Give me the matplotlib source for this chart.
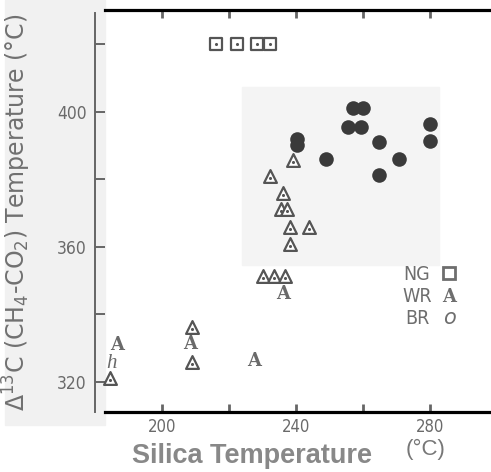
import numpy as np
import matplotlib.pyplot as plt
from matplotlib.patches import Rectangle
#--------------------------------------
# data
ng_x  = [216.1, 222.4, 228.4, 232.2]
ng_y  = [420.0, 420.0, 420.0, 420.0]

br_x  = [257.0, 260.0, 255.5, 259.4, 280.0, 280.0, 240.3, 240.3, 264.8, 249.0, 270.7, 264.8]
br_y  = [401.2, 401.2, 395.6, 395.6, 396.4, 391.4, 392.0, 390.3, 391.1, 386.1, 386.1, 381.3]

wr_x  = [239.1, 232.2, 236.1, 235.4, 237.3, 238.2, 243.9, 238.2, 230.1, 233.4, 236.7, 209.0, 209.0, 184.5]
wr_y  = [385.8, 381.0, 376.0, 371.3, 371.3, 365.9, 365.9, 360.9, 351.4, 351.4, 351.4, 336.3, 325.9, 321.2]

a_x   = [236.1, 208.4, 227.5, 186.6]
a_y   = [346.1, 331.3, 326.2, 331.0]
h_x   = [184.8]
h_y   = [325.6]

legend_names = ['NG', 'WR', 'BR']
xticks = [200, 220, 240, 260, 280]
xlabels = ['200', '', '240', '', '280']
yticks = [320, 340, 360, 380, 400, 420]
ylabels = ['320', '', '360', '', '400', '']
#--------------------------------------
fig = plt.figure(figsize=(4.91, 4.72), dpi=100)
fig.patch.set_facecolor('white')
W, H = 491, 472
fig.patches.append(Rectangle((5/W, 1-425/H), 100/W, 425/H, transform=fig.transFigure,
                             color='#f1f1f1', zorder=-5))

ax = fig.add_axes([95/W, 1-412/H, 1-95/W, 402/H])
ax.patch.set_visible(False)
ax.set_xlim(180, 298.2)
ax.set_ylim(311.1, 430.2)

# shaded box
ax.add_patch(Rectangle((223.9, 354.7), 282.7-223.9, 407.4-354.7, color='#f4f4f4', zorder=0))

gray = '#555555'
ax.scatter(ng_x, ng_y, marker='s', s=70, facecolor='white', edgecolor=gray, linewidth=1.6, zorder=3)
ax.scatter(ng_x, ng_y, marker='.', s=6, color=gray, zorder=4)
ax.scatter(br_x, br_y, marker='o', s=110, color='#3a3a3a', linewidth=0, zorder=3)
ax.scatter(wr_x, wr_y, marker='^', s=85, facecolor='white', edgecolor=gray, linewidth=1.6, zorder=3)
ax.scatter(wr_x, np.array(wr_y)-0.6, marker='.', s=6, color=gray, zorder=4)
for x, y in zip(a_x, a_y):
    ax.text(x, y, 'A', family='DejaVu Serif', fontweight='bold', fontsize=13,
            color='#6a6a6a', ha='center', va='center', zorder=4)
for x, y in zip(h_x, h_y):
    ax.text(x, y, 'h', family='Liberation Serif', style='italic', fontsize=15,
            color='#6a6a6a', ha='center', va='center', zorder=4)

# legend drawn as text
lgc = '#6e6e6e'
for name, py in zip(legend_names, [274, 297, 318]):
    fig.text(417/W, 1-py/H, name, fontsize=14, color=lgc, family='DejaVu Sans',
             fontstretch='condensed', ha='center', va='center')
ax.plot([449/W], [1-273/H], marker='s', ms=8.5, mfc='white', mec=lgc, mew=2,
        transform=fig.transFigure, clip_on=False)
fig.text(449/W, 1-297/H, 'A', family='DejaVu Serif', fontweight='bold', fontsize=13,
         color=lgc, ha='center', va='center')
fig.text(449/W, 1-318/H, 'o', family='DejaVu Sans', style='italic', fontsize=15,
         color=lgc, ha='center', va='center')

# spines
ax.spines['right'].set_visible(False)
ax.spines['top'].set_linewidth(2.3)
ax.spines['bottom'].set_linewidth(2.3)
ax.spines['top'].set_bounds(183, 298.2)
ax.spines['bottom'].set_bounds(183, 298.2)
ax.spines['left'].set_color('#666666')
ax.spines['left'].set_linewidth(1.4)
ax.spines['left'].set_bounds(311.0, 429.3)

ax.set_xticks(xticks)
ax.set_xticklabels(xlabels)
ax.set_yticks(yticks)
ax.set_yticklabels(ylabels)
ax.tick_params(axis='x', direction='in', length=6, width=2, color='#666666', top=True,
               labelsize=12, labelcolor='#6a6a6a', pad=4)
ax.tick_params(axis='y', direction='in', length=7, width=1.4, color='#666666',
               labelsize=12.5, labelcolor='#6a6a6a', pad=6)
for lb in ax.get_xticklabels() + ax.get_yticklabels():
    lb.set_fontstretch('condensed')

fig.text(17/W, 1-212/H, r'$\Delta^{13}$C (CH$_4$-CO$_2$) Temperature (°C)', rotation=90,
         fontsize=17, color='#707070', ha='center', va='center')
fig.text(252/W, 1-456/H, 'Silica Temperature', family='Liberation Sans', fontweight='bold',
         fontsize=19.5, color='#888888', ha='center', va='center')
fig.text(426/W, 1-449/H, '(°C)', family='Liberation Sans', fontsize=16,
         color='#777777', ha='center', va='center')

fig.savefig('out.png', dpi=100)
